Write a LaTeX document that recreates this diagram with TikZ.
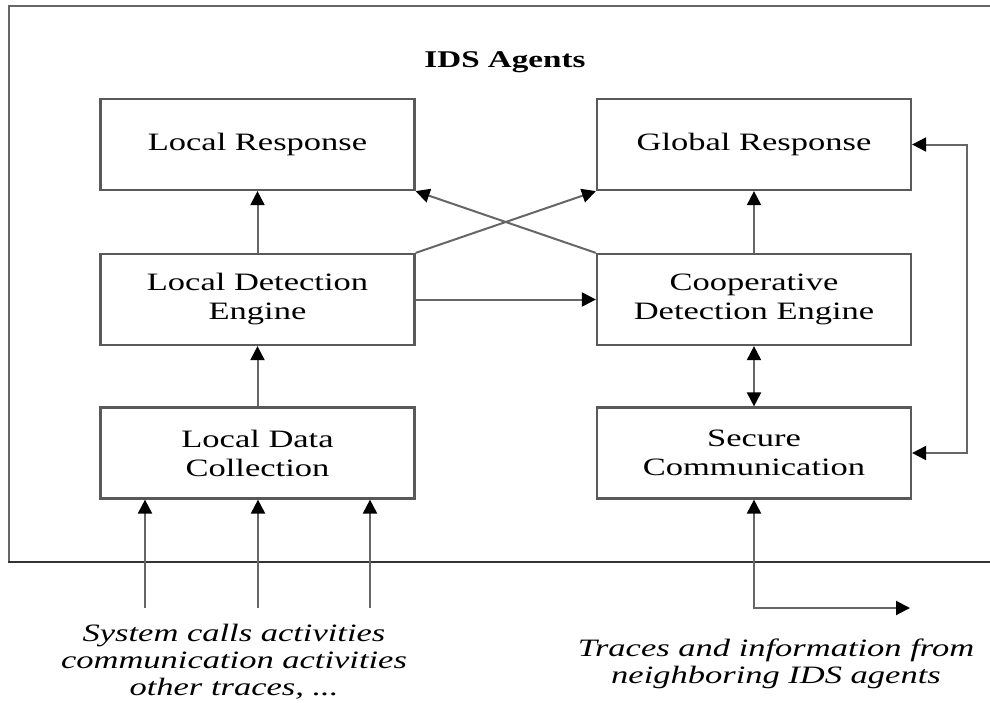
\documentclass[tikz,border=0pt]{standalone}
\usepackage{fontspec}
\setmainfont{Liberation Serif}[FakeStretch=1.38]
\usetikzlibrary{arrows.meta}
\begin{document}
\begin{tikzpicture}[x=1pt,y=-1pt,
  box/.style={draw=black!65, line width=2.2pt, minimum width=314pt, minimum height=91pt,
    inner sep=0pt, align=center, font=\fontsize{25}{29}\selectfont},
  conn/.style={draw=black!60, line width=2pt},
  tip/.style={-{Triangle[length=14pt,width=14pt,color=black]}},
  tips/.style={{Triangle[length=14pt,width=14pt,color=black]}-{Triangle[length=14pt,width=14pt,color=black]}},
  note/.style={align=center, font=\fontsize{25}{27}\selectfont\itshape, inner sep=0pt}]
\useasboundingbox (0,0) rectangle (990,702);
% outer frame
\draw[draw=black!60, line width=2.2pt] (995,6) -- (9,6) -- (9,562);
\draw[black!80, line width=1.4pt] (8,562) -- (995,562);
\node[font=\fontsize{24}{28}\selectfont\bfseries, anchor=base] (title) at (505,67) {IDS Agents};
% boxes
\node[box] (LR)  at (257.5,144.5) {Local Response};
\node[box] (GR)  at (754,144.5) {Global Response};
\node[box] (LDE) at (257.5,299.5) {Local Detection\\Engine};
\node[box] (CDE) at (754,299.5) {Cooperative\\Detection Engine};
\node[box] (LDC) at (257.5,453) {Local Data\\Collection};
\node[box] (SC)  at (754,453) {Secure\\Communication};
% connectors
\draw[conn,tip] (LDC.north) -- (LDE.south);
\draw[conn,tip] (LDE.north) -- (LR.south);
\draw[conn,tip] (CDE.north) -- (GR.south);
\draw[conn,tips] (CDE.south) -- (SC.north);
\draw[conn,tip] (LDE.east) -- (CDE.west);
\draw[conn,tip] (LDE.north east) -- (GR.south west);
\draw[conn,tip] (CDE.north west) -- (LR.south east);
\coordinate (fb) at (967,300);
\draw[conn,tips] (GR.east) -- (GR.east -| fb) -- (SC.east -| fb) -- (SC.east);
% inputs
\coordinate (in1) at (145,608);
\coordinate (in2) at (258,608);
\coordinate (in3) at (370,608);
\draw[conn,tip] (in1) -- (in1 |- LDC.south);
\draw[conn,tip] (in2) -- (in2 |- LDC.south);
\draw[conn,tip] (in3) -- (in3 |- LDC.south);
\coordinate (out) at (910,608);
\draw[conn,tips] (SC.south) -- (SC.south |- out) -- (out);
% notes
\node[note, anchor=base] (n1) at (234,695) {System calls activities\\communication activities\\other traces, ...};
\node[note, anchor=base] (n2) at (776,683) {Traces and information from\\neighboring IDS agents};
\end{tikzpicture}
\end{document}
